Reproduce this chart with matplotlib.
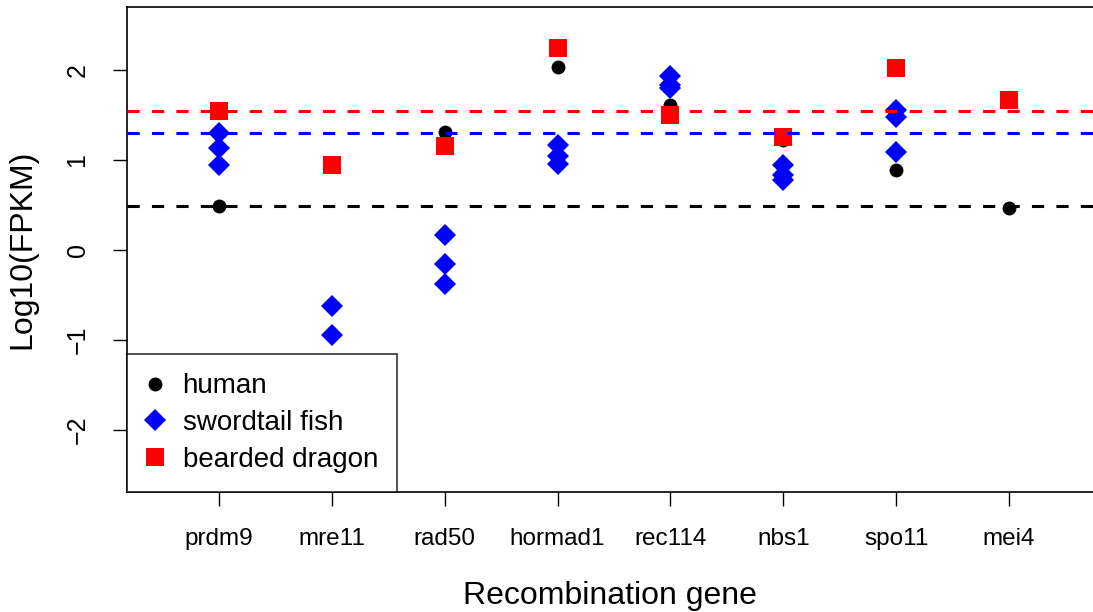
import numpy as np
import matplotlib
matplotlib.use("Agg")
import matplotlib.pyplot as plt
from matplotlib.lines import Line2D

plt.rcParams['font.family'] = ['Liberation Sans', 'DejaVu Sans']

genes = ["prdm9", "mre11", "rad50", "hormad1", "rec114", "nbs1", "spo11", "mei4"]
human = [0.49, np.nan, 1.31, 2.03, 1.61, 1.22, 0.89, 0.47]
fish1 = [1.30, -0.62, 0.17, 1.17, 1.93, 0.94, 1.56, np.nan]
fish2 = [1.13, -0.95, -0.16, 1.04, 1.83, 0.83, 1.48, np.nan]
fish3 = [0.94, np.nan, -0.38, 0.96, 1.80, 0.78, 1.09, np.nan]
dragon = [1.54, 0.94, 1.15, 2.24, 1.50, 1.25, 2.02, 1.67]
ref_human = 0.49
ref_fish = 1.30
ref_dragon = 1.545

W, H = 1093, 612
fig = plt.figure(figsize=(W / 100, H / 100), dpi=100)
ax = fig.add_axes([127 / W, 1 - 492 / H, 1 - 127 / W, (492 - 7) / H])

x = np.arange(1, len(genes) + 1)
ax.plot(x, human, 'o', color='black', ms=10, mew=0, linestyle='none', zorder=3)
for f in (fish1, fish2, fish3):
    ax.plot(x, f, 'D', color='blue', ms=11, mew=0, linestyle='none', zorder=3)
ax.plot(x, dragon, 's', color='red', ms=12.5, mew=0, linestyle='none', zorder=3)

for val, col in ((ref_human, 'black'), (ref_fish, 'blue'), (ref_dragon, 'red')):
    ax.axhline(val, color=col, lw=2.2, dashes=(4, 4), zorder=4)

ax.set_xlim(1 - 92 / 113, 8 + 84 / 113)
ax.set_ylim(-2.69, 2.7)
ax.set_xticks(x)
ax.set_xticklabels(genes, fontsize=17.5)
ax.set_yticks([-2, -1, 0, 1, 2])
ax.set_yticklabels(["\u22122", "\u22121", "0", "1", "2"], fontsize=18, rotation=90, va='center')
ax.tick_params(axis='both', length=10, width=1, direction='out')
ax.tick_params(axis='x', pad=16)
ax.tick_params(axis='y', pad=17)
for s in ax.spines.values():
    s.set_linewidth(1.2)
ax.spines['right'].set_visible(False)

ax.set_xlabel("Recombination gene", fontsize=23, labelpad=22)
ax.set_ylabel("Log10(FPKM)", fontsize=23, labelpad=20)

handles = [
    Line2D([], [], marker='o', color='black', ms=10, mew=0, linestyle='none'),
    Line2D([], [], marker='D', color='blue', ms=11, mew=0, linestyle='none'),
    Line2D([], [], marker='s', color='red', ms=12.5, mew=0, linestyle='none'),
]
leg = ax.legend(handles, ["human", "swordtail fish", "bearded dragon"], loc='lower left',
                bbox_to_anchor=(0, 0), borderaxespad=0, fontsize=20, frameon=True,
                fancybox=False, edgecolor='black', handletextpad=0.65, labelspacing=0.38,
                borderpad=0.7, handlelength=0.65)
leg.get_frame().set_linewidth(1.2)
leg.set_zorder(5)

fig.savefig("out.png", dpi=100)
